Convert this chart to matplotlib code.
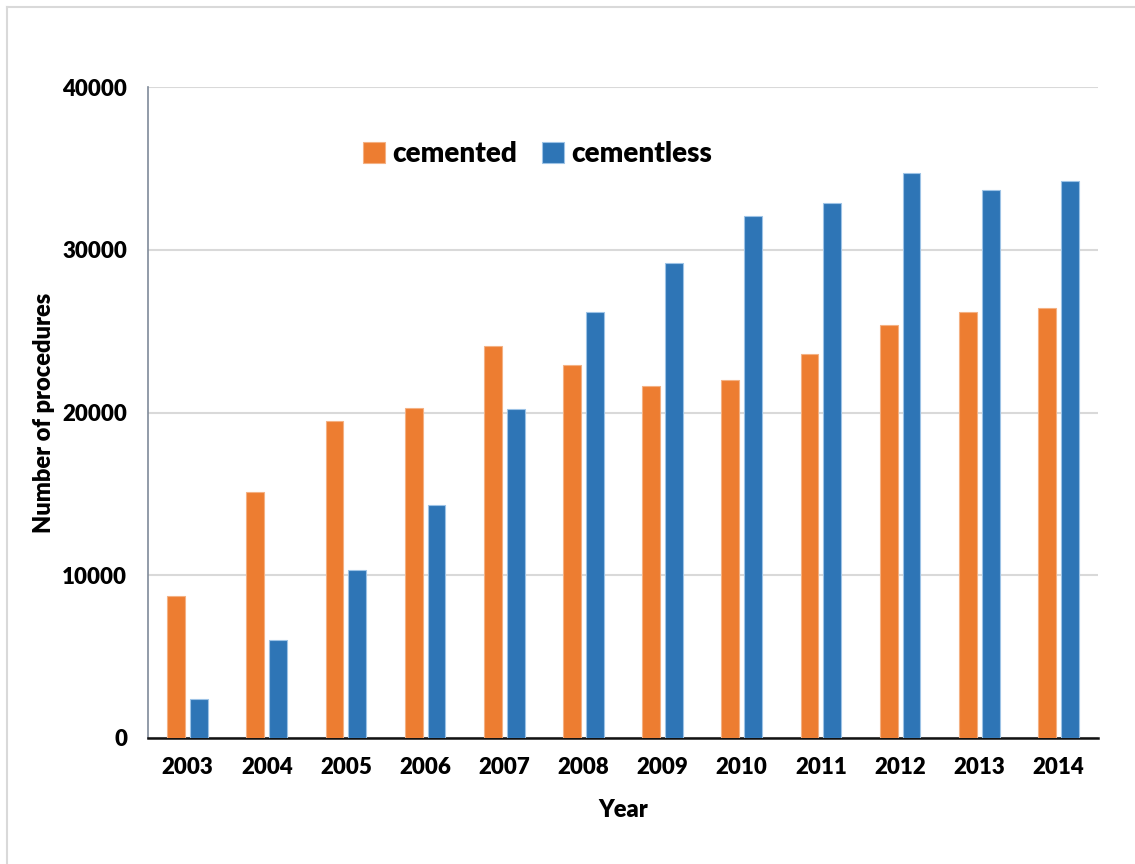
import matplotlib
matplotlib.use("Agg")
import matplotlib.pyplot as plt
import numpy as np
from matplotlib.lines import Line2D

years = ["2003", "2004", "2005", "2006", "2007", "2008", "2009", "2010", "2011", "2012", "2013", "2014"]
cemented = [8700, 15100, 19500, 20300, 24100, 22900, 21600, 22000, 23600, 25400, 26200, 26400]
cementless = [2400, 6000, 10300, 14300, 20200, 26200, 29200, 32100, 32900, 34700, 33700, 34200]
yticks = [0, 10000, 20000, 30000, 40000]

orange = "#ed7d31"
blue = "#2e75b6"
font = ["Lato", "DejaVu Sans"]
plt.rcParams["font.family"] = font
W = "heavy"

fig = plt.figure(figsize=(11.35, 8.64), dpi=100)
ax = fig.add_axes([148/1135, 1-738/864, (1098-148)/1135, (738-87)/864])

x = np.arange(len(years))
w = 0.225
ax.bar(x - 0.145, cemented, w, color=orange, edgecolor="#f4b183", linewidth=0.8, label="cemented", zorder=3)
ax.bar(x + 0.145, cementless, w, color=blue, edgecolor="#9dc3e6", linewidth=0.8, label="cementless", zorder=3)

ax.set_xlim(-0.5, len(years) - 0.5)
ax.set_ylim(0, 40000)
ax.set_yticks(yticks)
ax.set_yticklabels([str(v) for v in yticks])
ax.set_xticks(x)
ax.set_xticklabels(years)
ax.tick_params(axis="both", length=0, labelsize=16)
ax.tick_params(axis="y", pad=15)
ax.tick_params(axis="x", pad=14)
for lab in ax.get_xticklabels() + ax.get_yticklabels():
    lab.set_fontweight(W)

ax.grid(axis="y", color="#d9d9d9", linewidth=1.5, zorder=0)
ax.set_axisbelow(True)
for s in ["top", "right"]:
    ax.spines[s].set_visible(False)
ax.spines["left"].set_color("#7f8a99")
ax.spines["left"].set_linewidth(1.2)
ax.spines["bottom"].set_color("#111111")
ax.spines["bottom"].set_linewidth(1.8)

ax.set_xlabel("Year", fontsize=17, fontweight=W, labelpad=15)
ax.set_ylabel("Number of procedures", fontsize=17, fontweight=W, labelpad=5)

leg = ax.legend(loc="upper left", bbox_to_anchor=(0.2, 0.955), ncol=2, frameon=False,
                fontsize=20, handlelength=0.8, handleheight=0.8, handletextpad=0.25, columnspacing=0.9)
for t in leg.get_texts():
    t.set_fontweight(W)

# figure border (top and left)
fig.add_artist(Line2D([7/1135, 7/1135], [0, 1-7/864], color="#d9d9d9", linewidth=1.5, transform=fig.transFigure))
fig.add_artist(Line2D([7/1135, 1], [1-7/864, 1-7/864], color="#d9d9d9", linewidth=1.5, transform=fig.transFigure))

fig.savefig("out.png", dpi=100)
